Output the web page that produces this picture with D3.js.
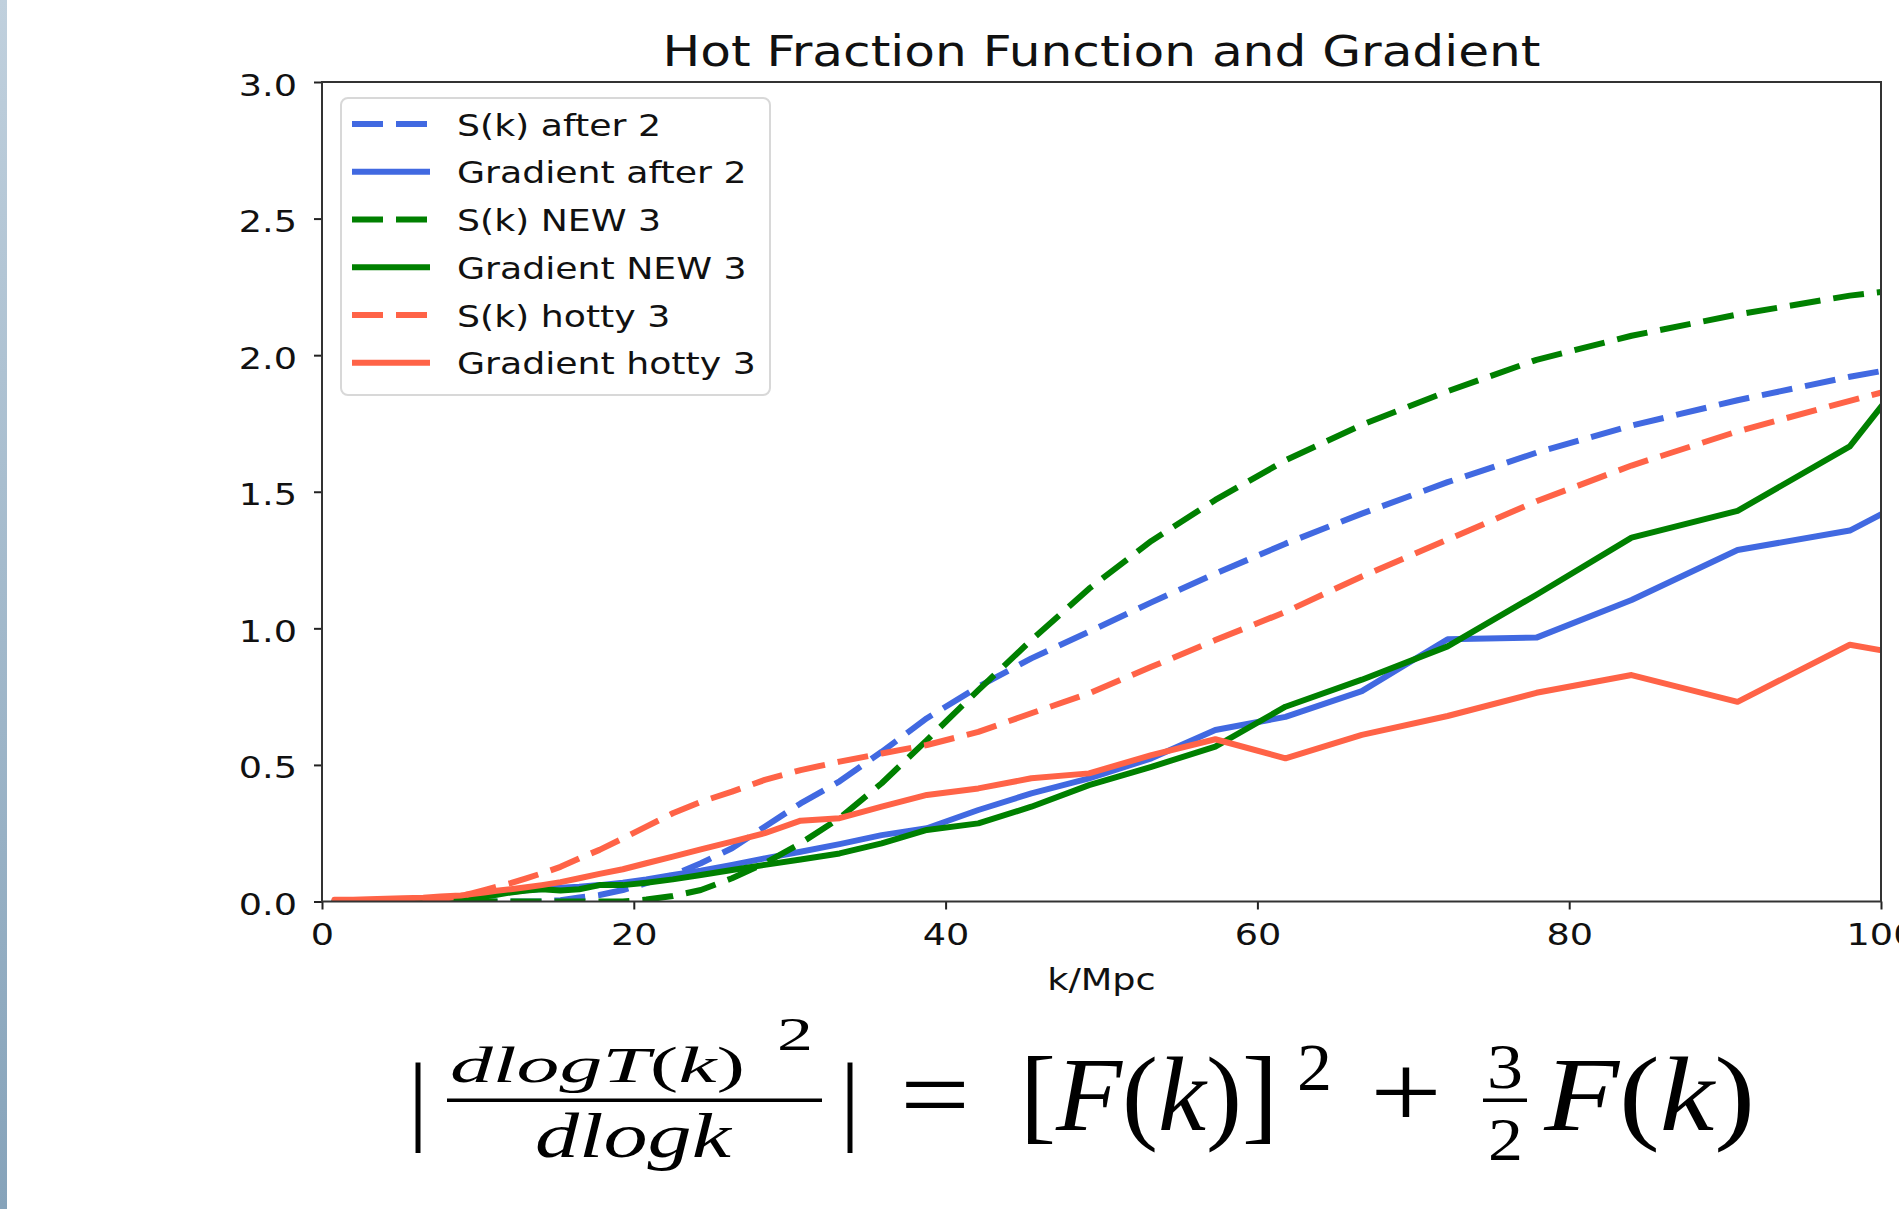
<!DOCTYPE html>
<html><head><meta charset="utf-8">
<script src="https://cdn.jsdelivr.net/npm/d3@7"></script>
<style>html,body{margin:0;padding:0;background:#fff;overflow:hidden}</style>
</head><body>
<svg id="chart" width="1899" height="1209" xmlns="http://www.w3.org/2000/svg"></svg>
<script>
// ---------------- data ----------------
const kValues = [0.8, 2.0, 3.0, 4.1, 5.2, 6.5, 7.6, 8.9, 9.6, 10.4, 11.2, 12.1, 13.1, 14.1, 15.3, 16.5, 17.8, 19.3, 20.8, 22.5, 24.3, 26.3, 28.4, 30.7, 33.2, 35.9, 38.8, 42.1, 45.5, 49.2, 53.2, 57.3, 61.8, 66.7, 72.2, 77.9, 84.0, 90.8, 98.0, 105.8];
const sAfter2 = [0,0,0,0,0,0,0,0,0,0,0,0,0,0,0.005,0.015,0.024,0.042,0.067,0.097,0.14,0.195,0.274,0.359,0.44,0.548,0.671,0.786,0.890,0.988,1.095,1.20,1.31,1.42,1.535,1.643,1.742,1.835,1.921,2.00];
const gradAfter2 = [0.003,0.003,0.003,0.003,0.004,0.005,0.006,0.01,0.014,0.023,0.029,0.035,0.041,0.046,0.05,0.054,0.06,0.069,0.081,0.097,0.113,0.134,0.158,0.182,0.21,0.243,0.268,0.335,0.396,0.451,0.524,0.628,0.676,0.77,0.96,0.966,1.104,1.287,1.358,1.59];
const sNew3 = [0,0,0,0,0,0,0,0,0,0,0,0,0,0,0,0,0,0,0.007,0.02,0.042,0.085,0.14,0.213,0.305,0.433,0.591,0.774,0.957,1.145,1.32,1.47,1.615,1.745,1.868,1.983,2.071,2.149,2.218,2.27];
const gradNew3 = [0,0,0,0,0,0.001,0.002,0.005,0.01,0.018,0.025,0.033,0.04,0.045,0.04,0.045,0.06,0.06,0.069,0.081,0.097,0.115,0.134,0.154,0.176,0.213,0.262,0.286,0.347,0.426,0.493,0.567,0.713,0.812,0.934,1.123,1.332,1.43,1.666,2.23];
const sHotty3 = [0,0,0.001,0.002,0.003,0.005,0.008,0.02,0.03,0.042,0.054,0.067,0.085,0.103,0.127,0.158,0.189,0.231,0.274,0.323,0.365,0.402,0.445,0.481,0.512,0.542,0.573,0.621,0.689,0.762,0.859,0.957,1.06,1.19,1.325,1.465,1.596,1.721,1.833,1.95];
const gradHotty3 = [0.006,0.006,0.008,0.01,0.012,0.014,0.018,0.022,0.027,0.033,0.039,0.045,0.052,0.06,0.071,0.085,0.101,0.118,0.14,0.164,0.191,0.219,0.25,0.296,0.305,0.347,0.39,0.414,0.451,0.469,0.536,0.594,0.524,0.61,0.679,0.764,0.829,0.731,0.94,0.86];

const seriesNames = ["S(k) after 2", "Gradient after 2", "S(k) NEW 3", "Gradient NEW 3", "S(k) hotty 3", "Gradient hotty 3"];
const seriesValues = [sAfter2, gradAfter2, sNew3, gradNew3, sHotty3, gradHotty3];
const seriesColors = ["#4169E1", "#4169E1", "#008000", "#008000", "#FF6347", "#FF6347"];
const seriesDashed = [true, false, true, false, true, false];

const xTickValues = [0, 20, 40, 60, 80, 100];
const yTickValues = [0.0, 0.5, 1.0, 1.5, 2.0, 2.5, 3.0];
const titleText = "Hot Fraction Function and Gradient";
const xLabelText = "k/Mpc";

// ---------------- layout ----------------
const SX = 1.2;           // horizontal stretch seen in the reference
const PL = 322, PR = 1881, PT = 82, PB = 901.5;
const FONT = "'DejaVu Sans', sans-serif";
const SERIF = "'Liberation Serif', 'DejaVu Serif', serif";

const svg = d3.select("#chart");
const defs = svg.append("defs");

// left slide edge
const grad = defs.append("linearGradient").attr("id", "edge").attr("x1", 0).attr("y1", 0).attr("x2", 0).attr("y2", 1);
grad.append("stop").attr("offset", "0%").attr("stop-color", "#c0d0dd");
grad.append("stop").attr("offset", "100%").attr("stop-color", "#86a3ba");
svg.append("rect").attr("x", 0).attr("y", 0).attr("width", 7).attr("height", 1209).attr("fill", "url(#edge)");

const x = d3.scaleLinear().domain([0, 100]).range([PL, PR]);
const y = d3.scaleLinear().domain([0, 3]).range([PB, PT]);

defs.append("clipPath").attr("id", "plotclip").append("rect")
  .attr("x", PL).attr("y", PT).attr("width", PR - PL).attr("height", PB - PT);

function stext(g, str, tx, ty, size, anchor) {
  return g.append("text")
    .attr("transform", `translate(${tx},${ty}) scale(${SX},1)`)
    .attr("text-anchor", anchor || "start")
    .attr("font-family", FONT).attr("font-size", size)
    .attr("fill", "#111").text(str);
}

// lines
const line = d3.line().x(d => x(d[0])).y(d => y(d[1]));
const lineG = svg.append("g").attr("clip-path", "url(#plotclip)");
seriesValues.forEach((vals, i) => {
  const pts = kValues.map((k, j) => [k, vals[j]]);
  lineG.append("path").datum(pts)
    .attr("d", line)
    .attr("fill", "none")
    .attr("stroke", seriesColors[i])
    .attr("stroke-width", 6)
    .attr("stroke-linejoin", "round")
    .attr("stroke-linecap", seriesDashed[i] ? "butt" : "round")
    .attr("stroke-dasharray", seriesDashed[i] ? "31 13" : null);
});

// axes
const yAxis = d3.axisLeft(y).tickValues(yTickValues).tickFormat(d3.format(".1f")).tickSize(8);
const gy = svg.append("g").attr("transform", `translate(${PL},0)`).call(yAxis);
gy.select(".domain").remove();
gy.selectAll(".tick line").attr("stroke", "#222").attr("stroke-width", 2);
gy.selectAll(".tick text")
  .attr("x", 0).attr("dy", null)
  .attr("transform", `translate(-25,13) scale(${SX},1)`)
  .attr("font-family", FONT).attr("font-size", 30.5).attr("fill", "#111");

const xAxis = d3.axisBottom(x).tickValues(xTickValues).tickFormat(d3.format("d")).tickSize(8);
const gx = svg.append("g").attr("transform", `translate(0,${PB})`).call(xAxis);
gx.select(".domain").remove();
gx.selectAll(".tick line").attr("stroke", "#222").attr("stroke-width", 2);
gx.selectAll(".tick text")
  .attr("y", 0).attr("dy", null)
  .attr("transform", `translate(0,43.5) scale(${SX},1)`)
  .attr("font-family", FONT).attr("font-size", 30.5).attr("fill", "#111");

// spines
svg.append("rect").attr("x", PL).attr("y", PT).attr("width", PR - PL).attr("height", PB - PT)
  .attr("fill", "none").attr("stroke", "#333").attr("stroke-width", 2);

// title & axis label
stext(svg, titleText, (PL + PR) / 2, 66, 41.8, "middle");
stext(svg, xLabelText, (PL + PR) / 2, 990, 30.5, "middle");

// legend
const lg = svg.append("g");
lg.append("rect").attr("x", 341).attr("y", 98).attr("width", 429).attr("height", 297)
  .attr("rx", 7).attr("fill", "#fff").attr("fill-opacity", 0.8)
  .attr("stroke", "#d8d8d8").attr("stroke-width", 2);
seriesNames.forEach((name, i) => {
  const cy = 124 + i * 47.75;
  lg.append("line").attr("x1", 352).attr("x2", 430).attr("y1", cy).attr("y2", cy)
    .attr("stroke", seriesColors[i]).attr("stroke-width", 6)
    .attr("stroke-dasharray", seriesDashed[i] ? "31 13" : null);
  stext(lg, name, 457, cy + 11.5, 30.2, "start");
});

// formula (text pieces fitted to the reference's boxes)
const fg = svg.append("g");
function piece(parts, x0, x1, base, fs) {
  const t = fg.append("text").attr("font-family", SERIF).attr("font-size", fs).attr("fill", "#000");
  parts.forEach(p => t.append("tspan").attr("font-style", p[1] ? "italic" : "normal").text(p[0]));
  const bb = t.node().getBBox();
  const sx = (x1 - x0) / bb.width;
  t.attr("transform", `translate(${x0 - bb.x * sx},${base}) scale(${sx},1)`);
  return t;
}
function bar(xc, base, fs) {
  fg.append("text").attr("font-family", SERIF).attr("font-size", fs).attr("fill", "#000")
    .attr("text-anchor", "middle").attr("x", xc).attr("y", base).text("|");
}
bar(418, 1132, 100);
piece([["dlogT", true], ["(", false], ["k", true], [")", false]], 450, 745, 1082, 50);
piece([["2", false]], 777, 813, 1050, 47);
fg.append("rect").attr("x", 447).attr("y", 1098.5).attr("width", 375).attr("height", 3.5).attr("fill", "#000");
piece([["dlogk", true]], 535, 733, 1157, 64);
bar(850, 1132, 100);
piece([["=", false]], 900, 970, 1130, 105);
piece([["[", false], ["F", true], ["(", false], ["k", true], [")", false], ["]", false]], 1020, 1278, 1130, 105);
piece([["2", false]], 1297, 1332, 1090, 68);
piece([["+", false]], 1370, 1442, 1128, 105);
piece([["3", false]], 1487, 1523, 1088, 64);
fg.append("rect").attr("x", 1483).attr("y", 1098.5).attr("width", 44).attr("height", 3.5).attr("fill", "#000");
piece([["2", false]], 1488, 1523, 1160, 62);
piece([["F", true], ["(", false], ["k", true], [")", false]], 1543, 1755, 1130, 105);
</script>
</body></html>
